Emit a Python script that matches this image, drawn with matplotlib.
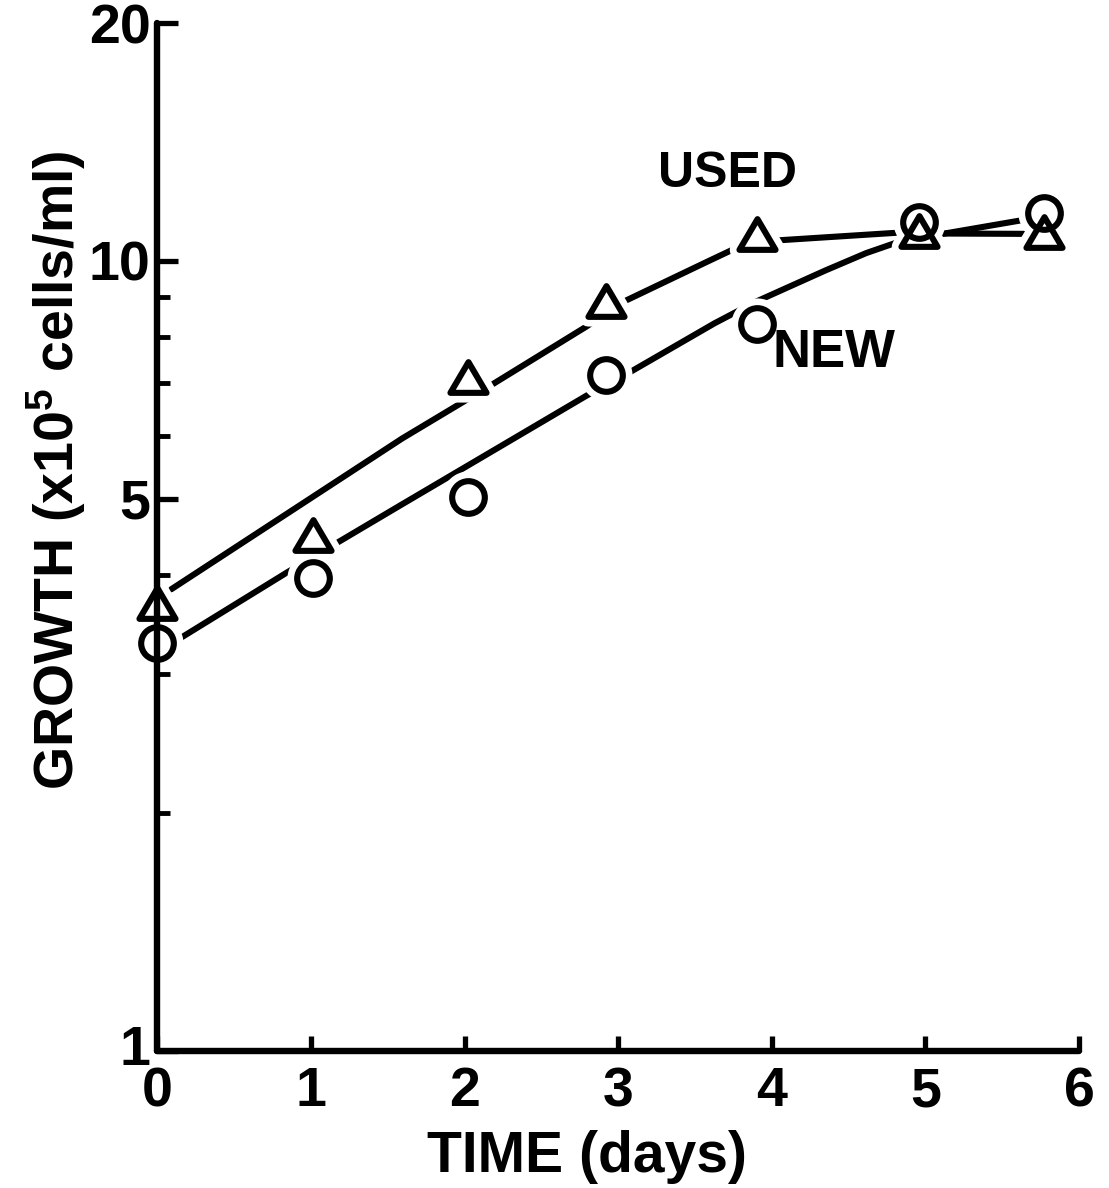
import matplotlib
matplotlib.use("Agg")
import matplotlib.pyplot as plt
from matplotlib.path import Path
from matplotlib.ticker import FixedLocator, FixedFormatter, NullFormatter

plt.rcParams['font.family'] = ['Liberation Sans', 'DejaVu Sans']
plt.rcParams['font.weight'] = 'bold'
plt.rcParams['mathtext.fontset'] = 'custom'
plt.rcParams['mathtext.rm'] = 'Liberation Sans:bold'
plt.rcParams['mathtext.bf'] = 'Liberation Sans:bold'
plt.rcParams['mathtext.default'] = 'bf'

# Measured growth (x10^5 cells/ml) against time (days)
days = [0.0, 1.01, 2.02, 2.92, 3.90, 4.96, 5.77]
used_growth = [3.69, 4.50, 7.12, 8.90, 10.82, 10.91, 10.87]
new_growth = [3.28, 3.97, 5.02, 7.17, 8.32, 11.2, 11.5]

# Hand-drawn trend curves through each series
used_fit_days = [0.089, 1.593, 2.187, 2.793, 3.024, 3.590, 3.748, 4.049, 4.831, 5.124, 5.640]
used_fit_growth = [3.84, 5.96, 6.99, 8.26, 8.86, 10.0, 10.34, 10.62, 10.86, 10.83, 10.82]
new_fit_days = [0.148, 0.840, 1.585, 2.792, 3.081, 3.628, 3.891, 4.351, 4.614, 4.831, 5.124, 5.641]
new_fit_growth = [3.33, 4.03, 4.91, 6.75, 7.24, 8.34, 8.87, 9.73, 10.23, 10.58, 10.83, 11.27]

x_ticks = [0, 1, 2, 3, 4, 5, 6]
x_tick_labels = ['0', '1', '2', '3', '4', '5', '6']
y_major = [1, 5, 10, 20]
y_major_labels = ['', '5', '10', '20']
y_origin_label = '1'
y_minor = [2, 3, 4, 6, 7, 8, 9]

INK = 'black'
LW = 4.4

fig = plt.figure(figsize=(11.09, 11.88), dpi=100)
ax = fig.add_axes([0.142, 0.1153, 0.973 - 0.142, 0.9806 - 0.1153])

ax.set_yscale('log')
ax.set_xlim(0, 6)
ax.set_ylim(1, 20)

# open triangle, a little wider than tall
tri = Path([(0, 0.85), (-1, -0.85), (1, -0.85), (0, 0.85)],
           [Path.MOVETO, Path.LINETO, Path.LINETO, Path.CLOSEPOLY])

# trend curves
ax.plot(used_fit_days, used_fit_growth, color=INK, lw=LW,
        solid_capstyle='round', solid_joinstyle='round', zorder=2.0)
ax.plot(new_fit_days, new_fit_growth, color=INK, lw=LW,
        solid_capstyle='round', solid_joinstyle='round', zorder=2.0)

# white halos break the curves around each point
ax.plot(days, used_growth, linestyle='none', marker=tri, ms=26,
        mfc='white', mec='white', mew=14, zorder=2.2, clip_on=False)
ax.plot(days, new_growth, linestyle='none', marker='o', ms=23.5,
        mfc='white', mec='white', mew=14, zorder=2.2, clip_on=False)

# open symbols
ax.plot(days, used_growth, linestyle='none', marker=tri, ms=26,
        mfc='none', mec=INK, mew=LW, zorder=3, clip_on=False)
ax.plot(days, new_growth, linestyle='none', marker='o', ms=23.5,
        mfc='none', mec=INK, mew=LW, zorder=3, clip_on=False)

# axes frame: only left and bottom
for side in ('top', 'right'):
    ax.spines[side].set_visible(False)
for side in ('left', 'bottom'):
    ax.spines[side].set_linewidth(4.6)
    ax.spines[side].set_zorder(2.6)
    ax.spines[side].set_capstyle('round')

ax.xaxis.set_major_locator(FixedLocator(x_ticks))
ax.xaxis.set_major_formatter(FixedFormatter(x_tick_labels))
ax.yaxis.set_major_locator(FixedLocator(y_major))
ax.yaxis.set_major_formatter(FixedFormatter(y_major_labels))
ax.yaxis.set_minor_locator(FixedLocator(y_minor))
ax.yaxis.set_minor_formatter(NullFormatter())
ax.xaxis.set_minor_locator(FixedLocator([]))

ax.tick_params(axis='x', which='major', direction='in', length=11, width=3.8,
               pad=11, labelsize=40, color=INK)
ax.tick_params(axis='y', which='major', direction='in', length=15, width=3.8,
               pad=5, labelsize=40, color=INK)
ax.tick_params(axis='y', which='minor', direction='in', length=9, width=3.5,
               color=INK)
for lab in ax.get_xticklabels() + ax.get_yticklabels():
    lab.set_fontweight('bold')

# the "1" at the origin sits a little further out, beside the corner
ax.annotate(y_origin_label, xy=(0, 1), xytext=(-16, 0),
            textcoords='offset points', fontsize=40, fontweight='bold',
            ha='center', va='center', color=INK, annotation_clip=False)

# series labels
ax.text(3.708, 12.88, 'USED', fontsize=36, fontweight='bold',
        ha='center', va='center', color=INK)
ax.text(4.404, 7.64, 'NEW', fontsize=38, fontweight='bold',
        ha='center', va='center', color=INK)

# axis titles
fig.text(587 / 1109, 1 - 1157 / 1188, 'TIME (days)', fontsize=41,
         fontweight='bold', ha='center', va='center', color=INK)
fig.text(56 / 1109, 1 - 470 / 1188, 'GROWTH (x10$^{5}$ cells/ml)',
         fontsize=40, fontweight='bold', rotation=90,
         ha='center', va='center', color=INK)

fig.savefig('out.png', dpi=100, facecolor='white')
